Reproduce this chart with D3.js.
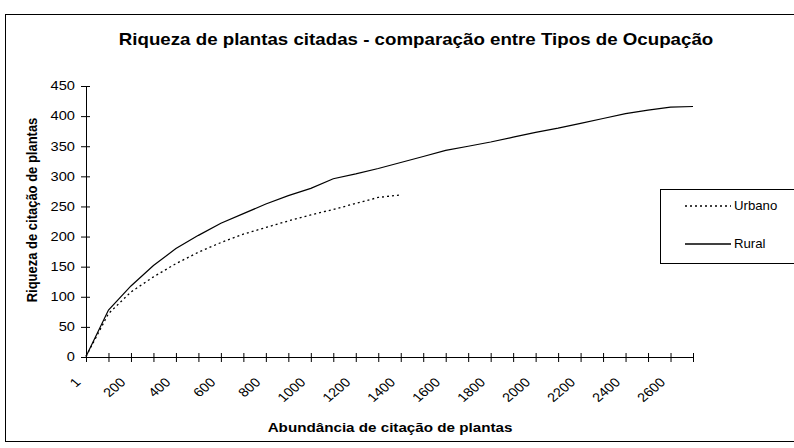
<!DOCTYPE html>
<html>
<head>
<meta charset="utf-8">
<script src="https://cdn.jsdelivr.net/npm/d3@7"></script>
<style>
  body { margin: 0; background: #fff; }
  text { font-family: "Liberation Sans", Arial, sans-serif; fill: #000; }
</style>
</head>
<body>
<div id="chart"></div>
<script>
// categories on the x axis (sampled every 100 citations)
var categories = [1, 100, 200, 300, 400, 500, 600, 700, 800, 900, 1000, 1100, 1200, 1300,
    1400, 1500, 1600, 1700, 1800, 1900, 2000, 2100, 2200, 2300, 2400, 2500, 2600, 2700];

var urbano = [1, 72, 108, 133, 155, 174, 190, 204, 215, 226, 236, 245, 255, 265, 269];
var rural = [1, 78, 118, 152, 180, 202, 222, 238, 254, 268, 280, 296, 304, 313, 323,
    333, 343, 350, 357, 365, 373, 380, 388, 396, 404, 410, 415, 416];

var yTicks = [0, 50, 100, 150, 200, 250, 300, 350, 400, 450];
var xLabels = [1, 200, 400, 600, 800, 1000, 1200, 1400, 1600, 1800, 2000, 2200, 2400, 2600];

var title = "Riqueza de plantas citadas - comparação entre Tipos de Ocupação";
var xTitle = "Abundância de citação de plantas";
var yTitle = "Riqueza de citação de plantas";

var width = 794, height = 448;
var sx = 1.17; // the picture is a bit wider than tall, text stretches with it

var svg = d3.select("#chart")
    .append("svg")
    .attr("width", width)
    .attr("height", height);

// outer frame
svg.append("rect")
    .attr("x", 5.5).attr("y", 14.5)
    .attr("width", 790).attr("height", 427)
    .attr("fill", "none")
    .attr("stroke", "#000")
    .attr("stroke-width", 1);

var x = d3.scalePoint()
    .domain(categories)
    .range([86, 693]);

var y = d3.scaleLinear()
    .domain([0, 450])
    .range([357, 86]);

svg.append("text")
    .attr("transform", "translate(416,45) scale(" + sx + ",1)")
    .attr("text-anchor", "middle")
    .style("font-size", "16px")
    .style("font-weight", "bold")
    .text(title);

// y axis
var yAxis = svg.append("g")
    .attr("transform", "translate(86,0)")
    .call(d3.axisLeft(y).tickValues(yTicks).tickSizeOuter(0).tickFormat(""));
yAxis.select(".domain").attr("stroke", "#000");
yAxis.selectAll(".tick line").attr("x2", 4).attr("x1", -5);

svg.append("g")
    .selectAll("text")
    .data(yTicks)
    .enter()
    .append("text")
    .attr("transform", function(d) { return "translate(75," + y(d) + ") scale(" + sx + ",1)"; })
    .attr("text-anchor", "end")
    .attr("dy", "0.35em")
    .style("font-size", "12.5px")
    .text(function(d) { return d; });

// x axis
var xAxis = svg.append("g")
    .attr("transform", "translate(0,357)")
    .call(d3.axisBottom(x).tickSizeOuter(0).tickFormat(""));
xAxis.select(".domain").attr("stroke", "#000");
xAxis.selectAll(".tick line").attr("y1", -4).attr("y2", 5);

svg.append("g")
    .selectAll("text")
    .data(xLabels)
    .enter()
    .append("text")
    .attr("transform", function(d) {
        return "translate(" + (x(d) - 8) + ",380) scale(" + sx + ",1) rotate(-45)";
    })
    .attr("text-anchor", "end")
    .attr("dy", "0.35em")
    .style("font-size", "12.5px")
    .text(function(d) { return d; });

svg.append("text")
    .attr("transform", "translate(390,432) scale(" + sx + ",1)")
    .attr("text-anchor", "middle")
    .style("font-size", "13px")
    .style("font-weight", "bold")
    .text(xTitle);

svg.append("text")
    .attr("transform", "translate(37,210) scale(" + sx + ",1) rotate(-90)")
    .attr("text-anchor", "middle")
    .style("font-size", "13px")
    .style("font-weight", "bold")
    .text(yTitle);

var line = d3.line()
    .x(function(d, i) { return x(categories[i]); })
    .y(function(d) { return y(d); });

svg.append("path")
    .datum(rural)
    .attr("d", line)
    .attr("fill", "none")
    .attr("stroke", "#000")
    .attr("stroke-width", 1.2);

svg.append("path")
    .datum(urbano)
    .attr("d", line)
    .attr("fill", "none")
    .attr("stroke", "#000")
    .attr("stroke-width", 1.3)
    .attr("stroke-dasharray", "2,3");

// legend
var legend = svg.append("g");
legend.append("rect")
    .attr("x", 660.5).attr("y", 189.5)
    .attr("width", 140).attr("height", 74)
    .attr("fill", "#fff")
    .attr("stroke", "#000");

var legendItems = [
    { name: "Urbano", dash: "2,3", yy: 206 },
    { name: "Rural", dash: null, yy: 244 }
];

legendItems.forEach(function(d) {
    legend.append("line")
        .attr("x1", 685).attr("x2", 731)
        .attr("y1", d.yy).attr("y2", d.yy)
        .attr("stroke", "#000")
        .attr("stroke-width", 1.3)
        .attr("stroke-dasharray", d.dash);
    legend.append("text")
        .attr("transform", "translate(734," + d.yy + ") scale(1.1,1)")
        .attr("dy", "0.35em")
        .style("font-size", "12px")
        .text(d.name);
});
</script>
</body>
</html>
